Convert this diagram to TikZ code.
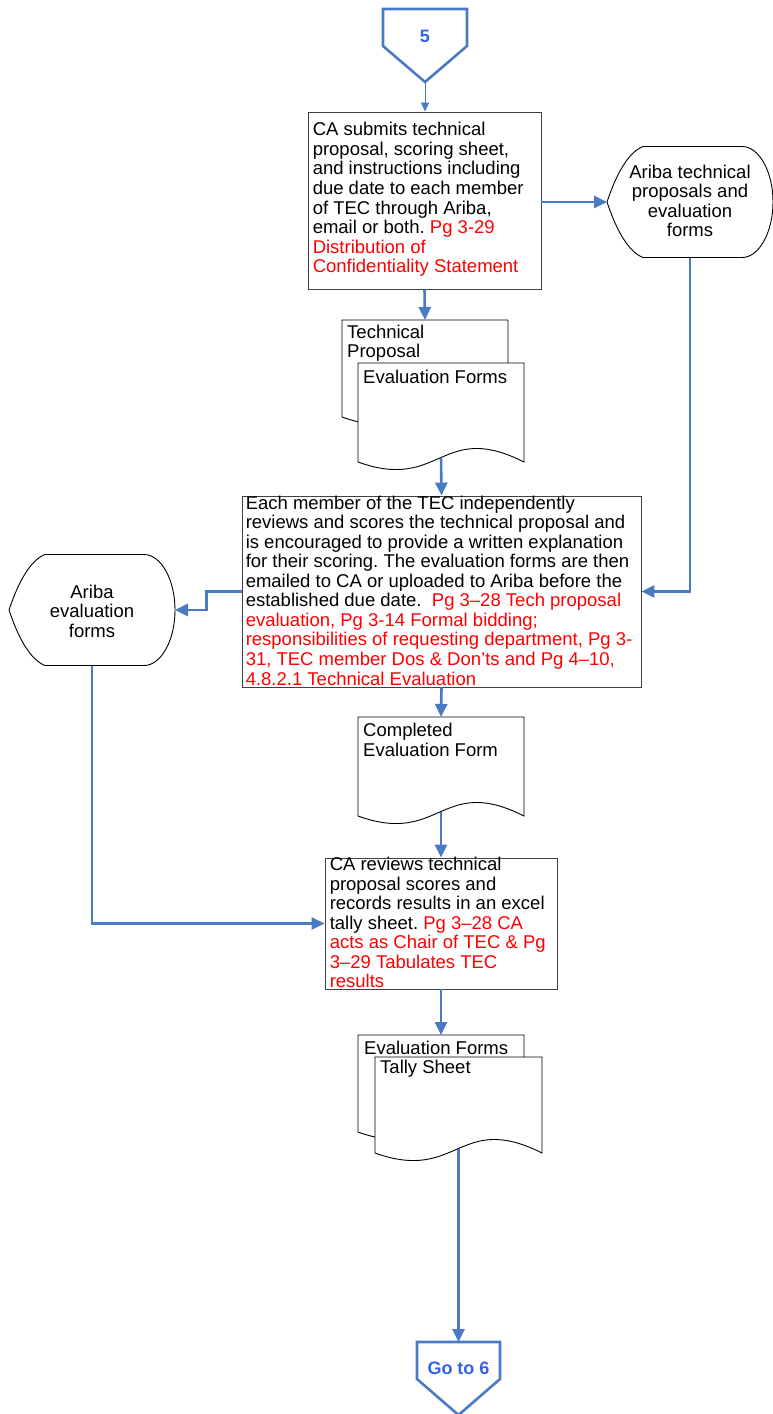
\documentclass[tikz,border=0pt]{standalone}
\usepackage{fontspec}
\setmainfont{Liberation Sans}
\usetikzlibrary{arrows.meta,calc}
\frenchspacing

\definecolor{flowblue}{RGB}{74,122,196}
\definecolor{labelblue}{RGB}{52,98,230}
\definecolor{refred}{RGB}{255,0,0}
\newcommand{\rf}[1]{\textcolor{refred}{#1}}

% document sheet with a wavy lower edge: left, top, width, height
\newcommand{\docsheet}[4]{%
  \filldraw[sheetline] (#1,#2) -- ({#1+#3},#2) -- ({#1+#3},{#2+#4})
    .. controls ({#1+0.5*#3},{#2+#4-42}) and ({#1+0.5*#3},{#2+#4+30}) .. (#1,{#2+#4}) -- cycle;}

% display shape (pointed left, rounded right): tip x, middle y
\newcommand{\displayshape}[2]{%
  \filldraw[sheetline] (#1,#2)
    .. controls ({#1+10},{#2-30}) and ({#1+22},{#2-50}) .. ({#1+36},{#2-55.5})
    -- ({#1+135},{#2-55.5})
    .. controls ({#1+152},{#2-55.5}) and ({#1+166},{#2-30.5}) .. ({#1+166},#2)
    .. controls ({#1+166},{#2+30.5}) and ({#1+152},{#2+55.5}) .. ({#1+135},{#2+55.5})
    -- ({#1+36},{#2+55.5})
    .. controls ({#1+22},{#2+50}) and ({#1+10},{#2+30}) .. (#1,#2) -- cycle;}

% off-page connector: left, top, width
\newcommand{\offpage}[3]{%
  \filldraw[pageref] (#1,#2) -- ({#1+#3},#2) -- ({#1+#3},{#2+37})
    -- ({#1+0.5*#3},{#2+73}) -- (#1,{#2+37}) -- cycle;}

\tikzset{
  every node/.style={font=\fontsize{18.5}{19.55}\selectfont, inner sep=0pt},
  stepbox/.style={draw=black!75, line width=0.9pt, fill=white},
  sheetline/.style={draw=black, line width=0.9pt, fill=white},
  pageref/.style={draw=flowblue, line width=2.6pt, fill=white},
  flow/.style={draw=flowblue, line width=2.6pt, -{Triangle[length=13pt,width=12pt]}},
  thinflow/.style={draw=flowblue, line width=1pt, -{Triangle[length=9pt,width=8pt]}},
  boxtext/.style={anchor=west, align=left},
  shapetext/.style={align=center},
  pagetext/.style={font=\fontsize{18}{20}\selectfont\bfseries, text=labelblue},
}

\begin{document}
\begin{tikzpicture}[x=1pt, y=-1pt]
\useasboundingbox (0,0) rectangle (772,1414);

% off-page connectors
\offpage{383}{9}{84}
\node[pagetext] (p5) at (425,36) {5};
\coordinate (p5tip) at (425,82);
\offpage{417}{1342}{83}
\node[pagetext] (g6) at (458.5,1368) {Go to 6};
\coordinate (g6top) at (458.5,1342);

% process steps
\node[stepbox, minimum width=233pt, minimum height=177pt] (b1) at (424.5,200.5) {};
\node[boxtext] (b1t) at ([xshift=5pt,yshift=1pt]b1.west) {CA submits technical\\
proposal, scoring sheet,\\
and instructions including\\
due date to each member\\
of TEC through Ariba,\\
email or both. \rf{Pg 3-29}\\
\rf{Distribution of}\\
\rf{Confidentiality Statement}};

\node[stepbox, minimum width=399pt, minimum height=191pt] (b2) at (441.5,591.5) {};
\node[boxtext] (b2t) at ([xshift=4pt,yshift=1pt]b2.west) {Each member of the TEC independently\\
reviews and scores the technical proposal and\\
is encouraged to provide a written explanation\\
for their scoring. The evaluation forms are then\\
emailed to CA or uploaded to Ariba before the\\
established due date.\ \ \rf{Pg 3–28 Tech proposal}\\
\rf{evaluation, Pg 3-14 Formal bidding;}\\
\rf{responsibilities of requesting department, Pg 3-}\\
\rf{31, TEC member Dos \& Don’ts and Pg 4–10,}\\
\rf{4.8.2.1 Technical Evaluation}};

\node[stepbox, minimum width=232pt, minimum height=131pt] (b3) at (441,923.5) {};
\node[boxtext] (b3t) at ([xshift=5pt,yshift=1pt]b3.west) {CA reviews technical\\
proposal scores and\\
records results in an excel\\
tally sheet. \rf{Pg 3–28 CA}\\
\rf{acts as Chair of TEC \& Pg}\\
\rf{3–29 Tabulates TEC}\\
\rf{results}};

% display shapes
\displayshape{607}{202}
\node[shapetext] (a1) at (690,201) {Ariba technical\\proposals and\\evaluation\\forms};
\coordinate (a1tip) at (607,202);
\coordinate (a1bot) at (690,257.5);

\displayshape{9}{610}
\node[shapetext] (a2) at (92,611) {Ariba\\evaluation\\forms};
\coordinate (a2right) at (175,610);
\coordinate (a2bot) at (92,665.5);

% documents
\docsheet{342}{320}{166}{97}
\docsheet{358}{363}{166}{99}
\node[anchor=west, align=left] (s1a) at (347,343) {Technical\\Proposal};
\node[anchor=west] (s1b) at (363,377) {Evaluation Forms};
\coordinate (s1top) at (425,320);
\coordinate (s1bot) at (441,457.5);

\docsheet{358}{717}{166}{99}
\node[anchor=west, align=left] (d2) at (363,740) {Completed\\Evaluation Form};
\coordinate (d2top) at (441,717);
\coordinate (d2bot) at (441,811.5);

\docsheet{358}{1035}{166}{97}
\docsheet{375}{1057}{167}{96}
\node[anchor=west] (s3a) at (364,1048) {Evaluation Forms};
\node[anchor=west] (s3b) at (380,1069) {Tally Sheet};
\coordinate (s3top) at (441,1035);
\coordinate (s3bot) at (458.5,1148.5);

% connectors
\draw[thinflow] (p5tip) -- (p5tip |- b1.north);
\draw[flow] (b1.south) -- (s1top);
\draw[flow] (b1.east |- a1tip) -- (a1tip);
\draw[flow] (a1bot) |- (b2.east);
\draw[flow] (s1bot) -- (b2.north);
\draw[flow] (b2.south) -- (d2top);
\draw[flow] (b2.west) -- ++(-35,0) |- (a2right);
\draw[flow] (a2bot) |- (b3.west);
\draw[flow] (d2bot) -- (b3.north);
\draw[flow] (b3.south) -- (s3top);
\draw[flow] (s3bot) -- (g6top);
\end{tikzpicture}
\end{document}
